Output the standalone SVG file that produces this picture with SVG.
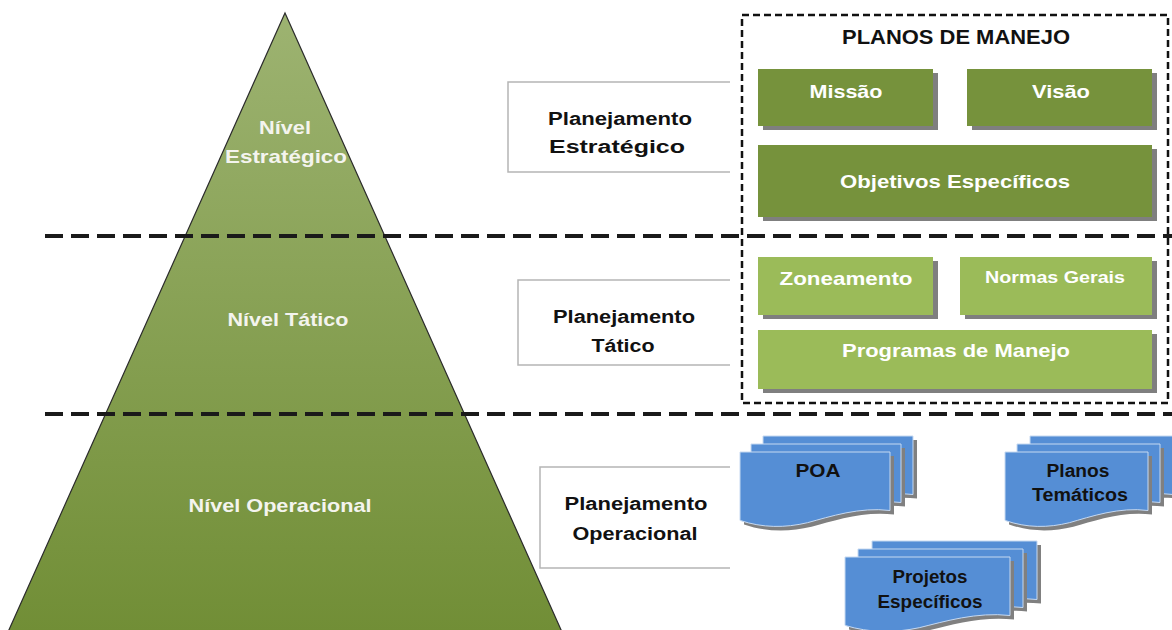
<svg xmlns="http://www.w3.org/2000/svg" width="1172" height="630" viewBox="0 0 1172 630">
<defs>
<linearGradient id="pyr" x1="0" y1="0" x2="0" y2="1"><stop offset="0" stop-color="#9db371"/><stop offset="1" stop-color="#718e36"/></linearGradient>
<path id="docA" d="M0,0 H150 V58.5 C120,54.7 90,64.6 67.5,70.7 C45,76 22.5,76 0,68.4 Z"/>
<path id="docB" d="M0,0 H143 V58.5 C114.4,54.7 85.8,64.6 64.35,70.7 C42.9,76 21.45,76 0,68.4 Z"/>
<path id="docC" d="M0,0 H165 V58.5 C132,54.7 99,64.6 74.25,70.7 C49.5,76 24.75,76 0,68.4 Z"/>
</defs>
<style>
text{font-family:"Liberation Sans",Arial,sans-serif;font-weight:bold;text-anchor:middle}
.lvl{fill:#f4f4ee;font-size:19px}
.plan{fill:#111;font-size:18px}
.wt{fill:#fff;font-size:19px}
.dk{fill:#76923c}
.lt{fill:#9bbb59}
.sh{fill:#7f7f7f}
.doc{fill:#558ed5;stroke:#c6d9f1;stroke-width:1}
.docsh{fill:#808080}
.dash{stroke:#1a1a1a;stroke-width:4;stroke-dasharray:18 8;fill:none}
.lbl{fill:#fff;stroke:#b5b5b5;stroke-width:1.5}
.dt{fill:#111;font-size:18px}
</style>
<rect width="1172" height="630" fill="#fff"/>

<g id="pyramid">
<polygon points="285,13 562,632 8,632" fill="url(#pyr)" stroke="#2b2b2b" stroke-width="1.2"/>
<text class="lvl" x="285" y="134" textLength="52" lengthAdjust="spacingAndGlyphs">Nível</text>
<text class="lvl" x="286" y="163" textLength="122" lengthAdjust="spacingAndGlyphs">Estratégico</text>
<text class="lvl" x="288" y="326" textLength="121" lengthAdjust="spacingAndGlyphs">Nível Tático</text>
<text class="lvl" x="280" y="512" textLength="183" lengthAdjust="spacingAndGlyphs">Nível Operacional</text>
</g>

<g id="label-estrategico">
<path class="lbl" d="M730,82 H508 V172 H730"/>
<text class="plan" x="620" y="125" textLength="144" lengthAdjust="spacingAndGlyphs">Planejamento</text>
<text class="plan" x="617" y="153" textLength="136" lengthAdjust="spacingAndGlyphs">Estratégico</text>
</g>
<g id="label-tatico">
<path class="lbl" d="M730,280 H518 V365 H730"/>
<text class="plan" x="624" y="323" textLength="142" lengthAdjust="spacingAndGlyphs">Planejamento</text>
<text class="plan" x="623" y="352" textLength="63" lengthAdjust="spacingAndGlyphs">Tático</text>
</g>
<g id="label-operacional">
<path class="lbl" d="M730,467 H540 V568 H730"/>
<text class="plan" x="636" y="510" textLength="143" lengthAdjust="spacingAndGlyphs">Planejamento</text>
<text class="plan" x="635" y="540" textLength="125" lengthAdjust="spacingAndGlyphs">Operacional</text>
</g>

<g id="planos-de-manejo">
<rect x="742" y="15" width="426" height="388" fill="none" stroke="#111" stroke-width="2.5" stroke-dasharray="7 4"/>
<text x="956" y="44" fill="#111" font-size="20" textLength="228" lengthAdjust="spacingAndGlyphs">PLANOS DE MANEJO</text>
</g>

<g id="missao">
<rect class="sh" x="763" y="73" width="175" height="57"/>
<rect class="dk" x="758" y="69" width="175" height="57"/>
<text class="wt" x="846" y="98" textLength="73" lengthAdjust="spacingAndGlyphs">Missão</text>
</g>
<g id="visao">
<rect class="sh" x="972" y="73" width="185" height="57"/>
<rect class="dk" x="967" y="69" width="185" height="57"/>
<text class="wt" x="1061" y="98" textLength="58" lengthAdjust="spacingAndGlyphs">Visão</text>
</g>
<g id="objetivos">
<rect class="sh" x="763" y="149" width="394" height="72"/>
<rect class="dk" x="758" y="145" width="394" height="72"/>
<text class="wt" x="955" y="188" textLength="230" lengthAdjust="spacingAndGlyphs">Objetivos Específicos</text>
</g>
<g id="zoneamento">
<rect class="sh" x="763" y="261" width="175" height="58"/>
<rect class="lt" x="758" y="257" width="175" height="58"/>
<text class="wt" x="846" y="285" textLength="133" lengthAdjust="spacingAndGlyphs">Zoneamento</text>
</g>
<g id="normas">
<rect class="sh" x="965" y="261" width="192" height="58"/>
<rect class="lt" x="960" y="257" width="192" height="58"/>
<text class="wt" x="1055" y="283" style="font-size:16px" textLength="140" lengthAdjust="spacingAndGlyphs">Normas Gerais</text>
</g>
<g id="programas">
<rect class="sh" x="763" y="334" width="394" height="59"/>
<rect class="lt" x="758" y="330" width="394" height="59"/>
<text class="wt" x="956" y="357" textLength="228" lengthAdjust="spacingAndGlyphs">Programas de Manejo</text>
</g>

<g id="separators">
<line class="dash" x1="45" y1="236" x2="1172" y2="236"/>
<line class="dash" x1="45" y1="414" x2="1172" y2="414"/>
</g>

<g id="poa">
<use href="#docA" class="docsh" x="767" y="440"/>
<use href="#docA" class="doc" x="763" y="436"/>
<use href="#docA" class="docsh" x="755" y="448"/>
<use href="#docA" class="doc" x="751" y="444"/>
<use href="#docA" class="docsh" x="744" y="456"/>
<use href="#docA" class="doc" x="740" y="452"/>
<text class="dt" x="818" y="477" textLength="45" lengthAdjust="spacingAndGlyphs">POA</text>
</g>
<g id="planos-tematicos">
<use href="#docB" class="docsh" x="1034" y="440"/>
<use href="#docB" class="doc" x="1030" y="436"/>
<use href="#docB" class="docsh" x="1021" y="448"/>
<use href="#docB" class="doc" x="1017" y="444"/>
<use href="#docB" class="docsh" x="1009" y="456"/>
<use href="#docB" class="doc" x="1005" y="452"/>
<text class="dt" x="1078" y="477" textLength="63" lengthAdjust="spacingAndGlyphs">Planos</text>
<text class="dt" x="1080" y="501" textLength="96" lengthAdjust="spacingAndGlyphs">Temáticos</text>
</g>
<g id="projetos">
<use href="#docC" class="docsh" x="876" y="545"/>
<use href="#docC" class="doc" x="872" y="541"/>
<use href="#docC" class="docsh" x="862" y="553"/>
<use href="#docC" class="doc" x="858" y="549"/>
<use href="#docC" class="docsh" x="849" y="561"/>
<use href="#docC" class="doc" x="845" y="557"/>
<text class="dt" x="930" y="583" textLength="75" lengthAdjust="spacingAndGlyphs">Projetos</text>
<text class="dt" x="930" y="608" textLength="105" lengthAdjust="spacingAndGlyphs">Específicos</text>
</g>
</svg>
